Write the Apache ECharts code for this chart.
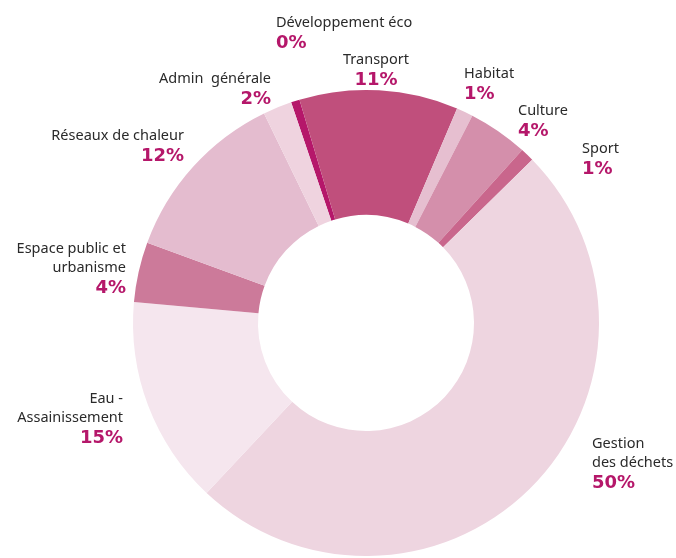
<!DOCTYPE html>
<html>
<head>
<meta charset="utf-8">
<script src="https://cdn.jsdelivr.net/npm/echarts@6/dist/echarts.min.js"></script>
<style>
  html, body { margin: 0; padding: 0; background: #fff; }
  #chart { width: 676px; height: 558px; }
</style>
</head>
<body>
<div id="chart"></div>
<script>
// donnees (parts en %)
var categories = ["Développement éco", "Transport", "Habitat", "Culture", "Sport",
    "Gestion\ndes déchets", "Eau -\nAssainissement", "Espace public et\nurbanisme",
    "Réseaux de chaleur", "Admin  générale"];
var values = [0.6, 11.0, 1.15, 4.15, 0.95, 49.35, 14.45, 4.15, 12.2, 2.0];
// pourcentages affiches (arrondis)
var pctLabels = [0, 11, 1, 4, 1, 50, 15, 4, 12, 2];

var colors = ["#b5176a", "#c04f7c", "#e6bfd0", "#d48fab", "#c9668c",
    "#eed5e0", "#f5e6ee", "#cc7a9a", "#e4bccf", "#efd3df"];

// position des etiquettes (x, y haut du bloc, alignement)
var labelPos = [
    [276, 13, "left"], [376, 50, "center"], [464, 64, "left"], [518, 101, "left"],
    [582, 139, "left"], [592, 434, "left"], [123, 389, "right"], [126, 239, "right"],
    [184, 126, "right"], [271, 69, "right"]
];

var chart = echarts.init(document.getElementById("chart"));

var data = categories.map(function (c, i) {
    return {name: c, value: values[i], itemStyle: {color: colors[i]}};
});

chart.setOption({
    animation: false,
    series: [{
        type: "pie",
        center: [366, 323],
        radius: [108, 233],
        startAngle: 108.75,
        clockwise: true,
        data: data,
        itemStyle: {borderWidth: 0},
        emphasis: {disabled: true},
        labelLine: {show: false},
        label: {
            show: true,
            position: "outside",
            overflow: "none",
            formatter: function (p) {
                return "{n|" + p.name + "}\n{p|" + pctLabels[p.dataIndex] + "%}";
            },
            rich: {
                n: {fontFamily: "Noto Sans", fontSize: 14.5, color: "#2a2a2a", lineHeight: 19},
                p: {fontFamily: "DejaVu Sans", fontSize: 18, fontWeight: "bold", color: "#b5176a", lineHeight: 22}
            }
        },
        labelLayout: function (params) {
            var lp = labelPos[params.dataIndex];
            return {x: lp[0], y: lp[1], align: lp[2], verticalAlign: "top"};
        }
    }]
});
</script>
</body>
</html>
